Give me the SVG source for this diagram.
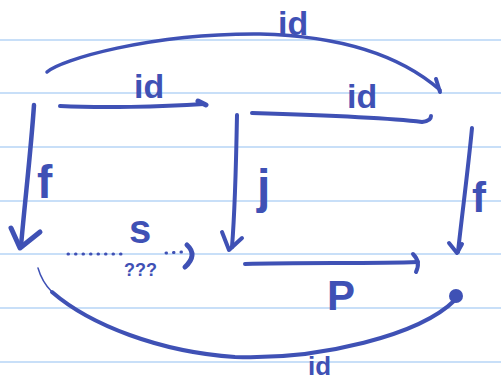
<svg xmlns="http://www.w3.org/2000/svg" width="501" height="382" viewBox="0 0 501 382">
<style>
.rule{stroke:#c8dff8;stroke-width:2}
.ink{fill:none;stroke:#3f51b5;stroke-width:4;stroke-linecap:round;stroke-linejoin:round}
.thin{fill:none;stroke:#3f51b5;stroke-width:1.5;stroke-linecap:round}
.dot{fill:none;stroke:#3f51b5;stroke-width:3;stroke-linecap:round;stroke-dasharray:0.5 7}
.lbl{fill:#3f51b5;font-family:"Liberation Sans",Arial,sans-serif;font-weight:bold}
</style>
<rect width="501" height="382" fill="#ffffff"/>
<g id="paper">
<line class="rule" x1="0" y1="40" x2="501" y2="40"/>
<line class="rule" x1="0" y1="93" x2="501" y2="93"/>
<line class="rule" x1="0" y1="147" x2="501" y2="147"/>
<line class="rule" x1="0" y1="201" x2="501" y2="201"/>
<line class="rule" x1="0" y1="254" x2="501" y2="254"/>
<line class="rule" x1="0" y1="308" x2="501" y2="308"/>
<line class="rule" x1="0" y1="362" x2="501" y2="362"/>
</g>
<g id="connectors">
<g id="arc-top">
<path class="ink" style="stroke-width:3.5" d="M47,72 C60,60 150,33 260,34 C340,36 400,55 440,90"/>
<path class="ink" d="M436,79 L440,92"/>
</g>
<g id="arrow-top-left">
<path class="ink" d="M60,106 C100,108 160,107 204,104"/>
<path class="ink" style="stroke-width:5" d="M198,101 L206,105"/>
</g>
<g id="arrow-top-right">
<path class="ink" d="M252,113 C320,115 390,118 422,122 Q431,121 431,116"/>
</g>
<g id="arrow-f-left">
<path class="ink" style="stroke-width:4.5" d="M34,105 C31,150 25,200 21,246"/>
<path class="ink" style="stroke-width:5" d="M11,228 L20,248 L40,232"/>
</g>
<g id="arrow-j">
<path class="ink" d="M237,115 C236,170 235,210 232,247"/>
<path class="ink" d="M222,232 L229,250 L242,238"/>
</g>
<g id="arrow-f-right">
<path class="ink" d="M472,128 C468,170 462,215 458,252"/>
<path class="ink" d="M449,243 L457,253 L462,244"/>
</g>
<g id="arrow-s">
<path class="dot" d="M68,254 L126,254"/>
<path class="dot" d="M166,253 L182,252"/>
<path class="ink" style="stroke-width:5" d="M187,245 Q198,255 185,267"/>
</g>
<g id="arrow-p">
<path class="ink" d="M245,264 C300,262 370,264 418,262"/>
<path class="ink" d="M413,254 Q421,262 416,272"/>
</g>
<g id="arc-bottom">
<path class="thin" d="M38,268 Q42,282 52,292"/>
<path class="ink" d="M52,292 C90,325 160,352 235,357 C320,360 420,335 455,300"/>
<circle cx="456" cy="296" r="7" fill="#3f51b5"/>
</g>
</g>
<g id="labels">
<text class="lbl" x="278" y="35" font-size="34">id</text>
<text class="lbl" x="134" y="98" font-size="34">id</text>
<text class="lbl" x="347" y="108" font-size="34">id</text>
<text class="lbl" x="37" y="198" font-size="46">f</text>
<text class="lbl" x="257" y="203" font-size="48">j</text>
<text class="lbl" x="472" y="212" font-size="42">f</text>
<text class="lbl" x="129" y="243" font-size="40">s</text>
<text class="lbl" x="124" y="276" font-size="18">???</text>
<text class="lbl" x="327" y="310" font-size="42">P</text>
<text class="lbl" x="308" y="375" font-size="26">id</text>
</g>
</svg>
